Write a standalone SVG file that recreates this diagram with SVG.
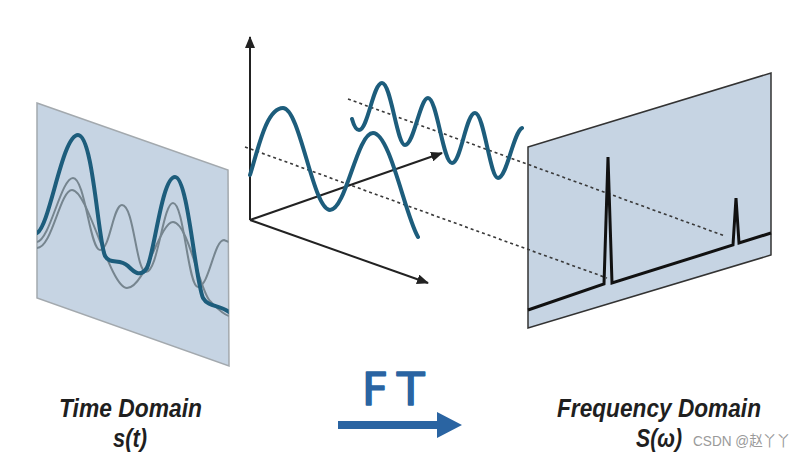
<svg xmlns="http://www.w3.org/2000/svg" width="806" height="458" viewBox="0 0 806 458">
<style>
.panel{fill:#c6d4e3}
.wave{fill:none;stroke:#1d5d7c;stroke-width:4;stroke-linecap:round;stroke-linejoin:round}
.gray{fill:none;stroke:#76858f;stroke-width:2}
.axis{fill:none;stroke:#222;stroke-width:2}
.dot{fill:none;stroke:#3a3a3a;stroke-width:1.6;stroke-dasharray:3 3}
.lbl{font-family:"Liberation Sans",Arial,sans-serif;font-style:italic;font-weight:bold;font-size:25px;fill:#1f1f1f}
</style>
<defs>
<marker id="ah" viewBox="0 0 12 10" refX="11" refY="5" markerWidth="12" markerHeight="10" markerUnits="userSpaceOnUse" orient="auto">
<path d="M0,0 L12,5 L0,10 Z" fill="#222"/>
</marker>
<clipPath id="lclip"><path d="M37,103 L228,170 L229,366 L37,298 Z"/></clipPath>
</defs>
<rect width="806" height="458" fill="#fff"/>

<g id="time-panel">
<path class="panel" d="M37,103 L228,170 L229,366 L37,298 Z" stroke="#a3a9ae" stroke-width="1.5"/>
<g clip-path="url(#lclip)">
<path class="gray" d="M37,248 C52,248 60,190 72,190 C88,190 110,288 127,288 C145,288 160,222 173,222 C188,222 200,292 210,301 C216,307 222,314 229,316"/>
<path class="gray" d="M37,242 C50,240 61,178 73,178 C85,178 90,250 100,250 C110,250 113,205 122,205 C134,205 136,272 146,272 C158,272 163,203 173,203 C184,203 188,287 198,287 C209,287 214,240 224,240 L229,242"/>
<path class="wave" stroke-width="5.5" d="M37,233 C50,226 62,135 78,135 C93,135 98,240 105,256 C110,265 120,258 128,266 C134,272 140,278 147,268 C155,250 162,177 175,177 C188,177 195,280 203,298 C208,307 220,305 229,312"/>
</g>
</g>

<g id="freq-panel">
<path class="panel" d="M528,147 L771,73 L771,255 L528,328 Z" stroke="#333" stroke-width="1.5"/>
</g>

<g id="connectors">
<path class="dot" d="M348,99 L725,236"/>
<path class="dot" d="M245,147 L607,278"/>
</g>

<g id="axes">
<path class="axis" d="M250,220 L250,37" marker-end="url(#ah)"/>
<path class="axis" d="M250,220 L442,153" marker-end="url(#ah)"/>
<path class="axis" d="M250,220 L428,283" marker-end="url(#ah)"/>
</g>

<g id="sine-waves">
<path class="wave" d="M250,175 C258,150 266,108 283,108 C300,108 313,210 330,210 C346,210 357,133 373,133 C390,133 405,215 418,237"/>
<path class="wave" d="M352,119 C354,126 356,130 359,130 C368,130 373,83 382,83 C391,83 397,145 405,145 C414,145 420,98 428,98 C437,98 443,163 452,163 C461,163 466,113 475,113 C484,113 490,178 498,178 C507,178 513,133 522,128"/>
</g>

<g id="spectrum">
<path d="M528,310 L604,284 L608,157 L612,283 L733,245 L736,198 L739,243 L771,233" fill="none" stroke="#111" stroke-width="3" stroke-linejoin="miter"/>
</g>

<g id="ft-arrow">
<path d="M338,421 L437,421 L437,412 L462,425 L437,438 L437,429 L338,429 Z" fill="#2a64a2"/>
<text x="362" y="405" font-family="'DejaVu Sans',sans-serif" font-size="45" letter-spacing="10" fill="#2a64a2" stroke="#2a64a2" stroke-width="1.6" stroke-linejoin="round">FT</text>
</g>

<g id="labels">
<text class="lbl" x="59" y="417" textLength="143" lengthAdjust="spacingAndGlyphs">Time Domain</text>
<text class="lbl" x="113" y="447" textLength="34" lengthAdjust="spacingAndGlyphs">s(t)</text>
<text class="lbl" x="557" y="417" textLength="204" lengthAdjust="spacingAndGlyphs">Frequency Domain</text>
<text class="lbl" x="636" y="447" textLength="46" lengthAdjust="spacingAndGlyphs">S(ω)</text>
<text x="693" y="446" font-family="'Liberation Sans','Noto Sans CJK SC',sans-serif" font-size="15" fill="#9a9a9a" textLength="97" lengthAdjust="spacingAndGlyphs">CSDN @赵丫丫</text>
</g>
</svg>
